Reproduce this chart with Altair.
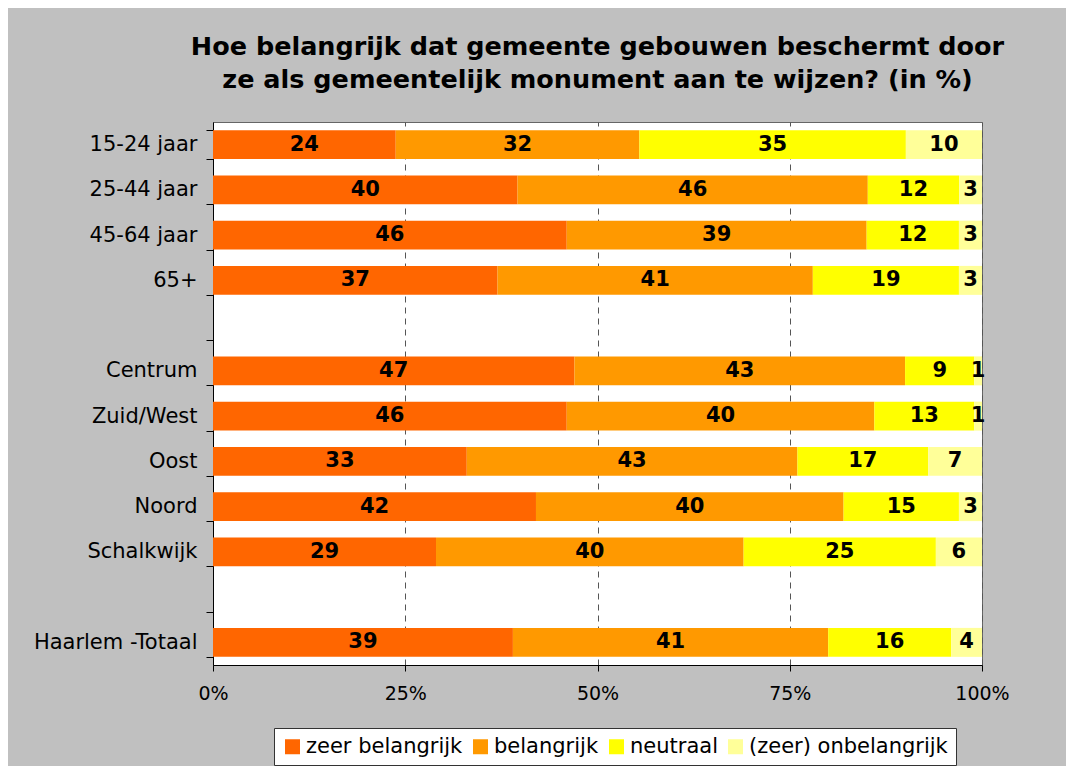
import altair as alt
import pandas as pd

categories = ["15-24 jaar", "25-44 jaar", "45-64 jaar", "65+", " ",
              "Centrum", "Zuid/West", "Oost", "Noord", "Schalkwijk", "  ",
              "Haarlem -Totaal"]
series = ["zeer belangrijk", "belangrijk", "neutraal", "(zeer) onbelangrijk"]
colors = ["#FF6600", "#FF9900", "#FFFF00", "#FFFF99"]

zeer_belangrijk = [24, 40, 46, 37, None, 47, 46, 33, 42, 29, None, 39]
belangrijk = [32, 46, 39, 41, None, 43, 40, 43, 40, 40, None, 41]
neutraal = [35, 12, 12, 19, None, 9, 13, 17, 15, 25, None, 16]
onbelangrijk = [10, 3, 3, 3, None, 1, 1, 7, 3, 6, None, 4]

title_lines = ["Hoe belangrijk dat gemeente gebouwen beschermt door",
               "ze als gemeentelijk monument aan te wijzen? (in %)"]

rows = []
for i, cat in enumerate(categories):
    for j, (s, vals) in enumerate(zip(series, [zeer_belangrijk, belangrijk, neutraal, onbelangrijk])):
        if vals[i] is not None:
            rows.append({"cat": cat, "series": s, "order": j, "value": vals[i]})
df = pd.DataFrame(rows)

FONT = "DejaVu Sans"

base = alt.Chart(df).transform_stack(
    stack="value", groupby=["cat"], as_=["v0", "v1"], offset="normalize",
    sort=[alt.SortField("order", order="ascending")]
).transform_calculate(mid="(datum.v0 + datum.v1) / 2")

yscale = alt.Scale(domain=categories, paddingInner=0.36, paddingOuter=0.18)

bars = base.mark_bar().encode(
    y=alt.Y("cat:N", scale=yscale,
            axis=alt.Axis(title=None, labelFont=FONT, labelFontSize=21, labelColor="black",
                          domainColor="black", tickColor="black", tickSize=7,
                          tickBand="extent", labelPadding=9, grid=False, labelLimit=0)),
    x=alt.X("v0:Q", scale=alt.Scale(domain=[0, 1], nice=False),
            axis=alt.Axis(title=None, values=[0, 0.25, 0.5, 0.75, 1], format="%",
                          labelFont=FONT, labelFontSize=19, labelColor="black",
                          labelFlush=False,
                          domainColor="black", tickColor="black", tickSize=6,
                          labelPadding=13, grid=True, gridDash=[6, 5],
                          gridColor="#555555", gridWidth=1)),
    x2="v1:Q",
    color=alt.Color("series:N", scale=alt.Scale(domain=series, range=colors),
                    legend=alt.Legend(title=None, orient="none", legendX=61, legendY=606,
                                      direction="horizontal", columns=4,
                                      symbolType="square", symbolSize=225,
                                      symbolStrokeWidth=0, labelLimit=0,
                                      labelFont=FONT, labelFontSize=21, labelColor="black",
                                      fillColor="white", strokeColor="#333333",
                                      padding=8, columnPadding=7, labelOffset=3)),
    order=alt.Order("order:Q"),
)

labels = base.mark_text(font=FONT, fontWeight="bold", fontSize=21, color="black").encode(
    y=alt.Y("cat:N", scale=yscale),
    x=alt.X("mid:Q"),
    text=alt.Text("value:Q"),
)

chart = alt.layer(bars, labels).properties(
    width=769, height=543,
    autosize=alt.AutoSizeParams(type="none"),
    padding={"left": 205, "top": 114, "right": 84, "bottom": 101},
    background="#C0C0C0",
    title=alt.TitleParams(title_lines, font=FONT, fontSize=25.5, fontWeight="bold",
                          color="black", anchor="middle", offset=18, lineHeight=33),
).configure_view(fill="white", stroke="#666666", strokeWidth=1)

chart.save("out.html", embed_options={"renderer": "svg", "actions": False})
